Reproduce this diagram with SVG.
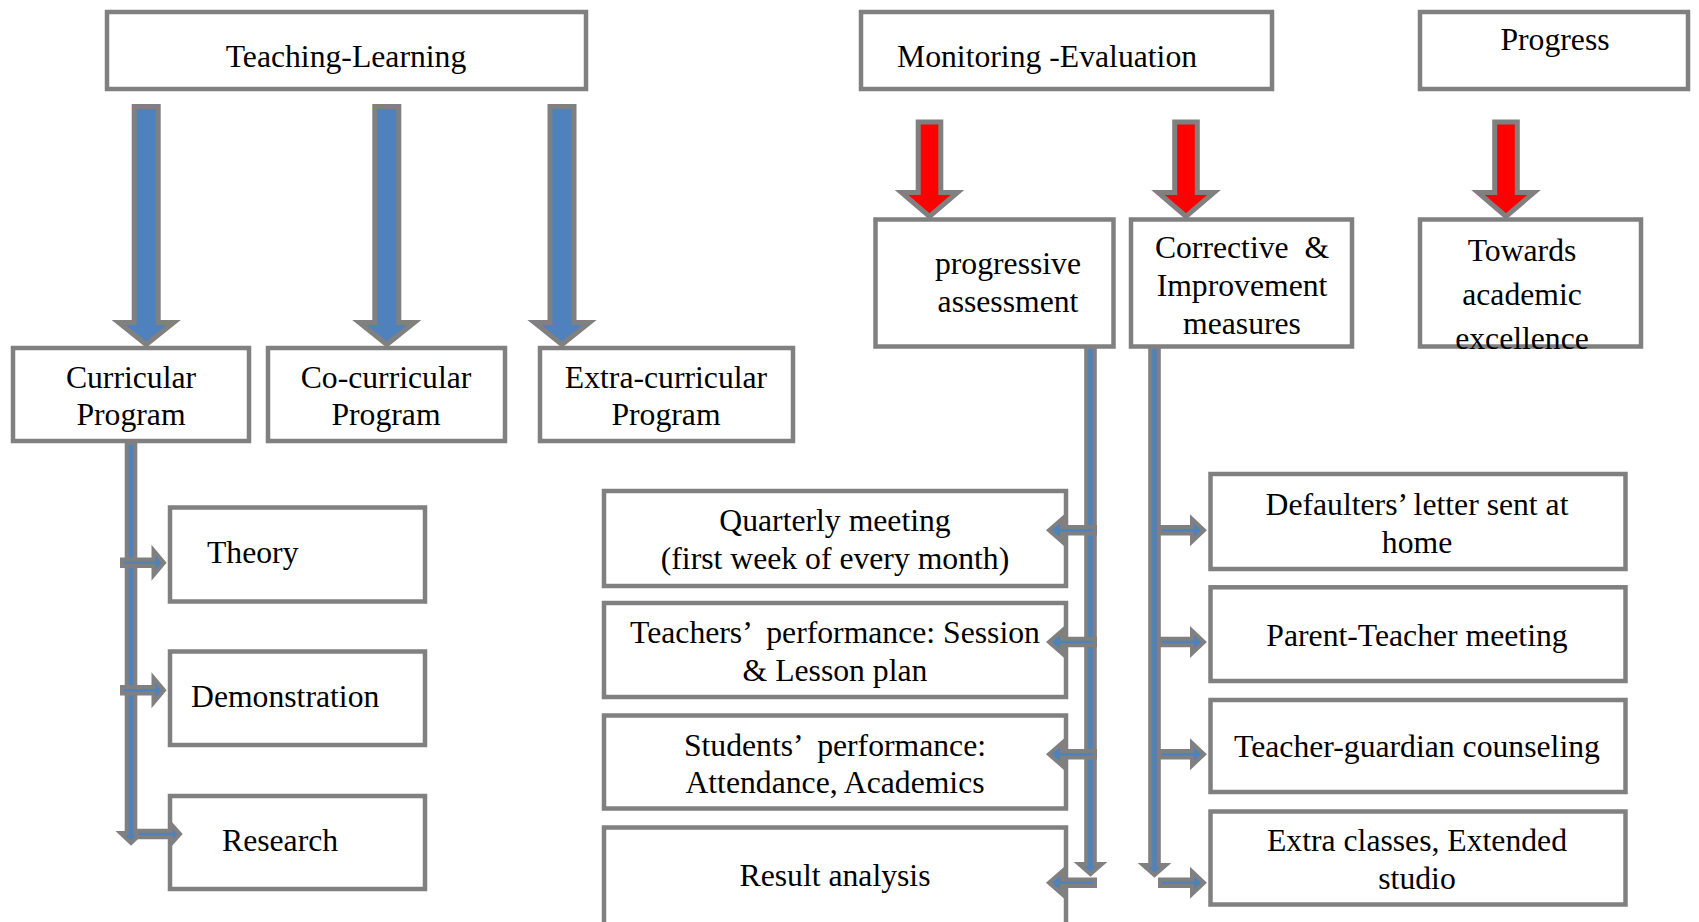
<svg xmlns="http://www.w3.org/2000/svg" width="1699" height="922" viewBox="0 0 1699 922">
<style>
.box{fill:#ffffff;stroke:#808080;stroke-width:4.5}
.t{font-family:"Liberation Serif","Times New Roman",serif;font-size:31.7px;fill:#000000;white-space:pre}
.m{text-anchor:middle}
.big{fill:#4f81bd;stroke:#808080;stroke-width:5;stroke-linejoin:miter;stroke-miterlimit:10}
.red{fill:#ff0000;stroke:#808080;stroke-width:5;stroke-linejoin:miter;stroke-miterlimit:10}
.thin{fill:#4f81bd;stroke:#808080;stroke-width:4;stroke-linejoin:miter;stroke-miterlimit:10}
</style>
<rect width="1699" height="922" fill="#ffffff"/>
<g id="teaching-learning"><rect class="box" x="107" y="12" width="479" height="77"/><text class="t m" x="346" y="67">Teaching-Learning</text></g>
<g id="monitoring-evaluation"><rect class="box" x="861" y="12" width="411" height="77"/><text class="t" x="897" y="67">Monitoring -Evaluation</text></g>
<g id="progress"><rect class="box" x="1420" y="12" width="268" height="77"/><text class="t m" x="1555" y="50">Progress</text></g>
<g id="curricular"><rect class="box" x="13" y="348" width="236" height="93"/><text class="t m" x="131" y="388">Curricular</text><text class="t m" x="131" y="425">Program</text></g>
<g id="co-curricular"><rect class="box" x="268" y="348" width="237" height="93"/><text class="t m" x="386" y="388">Co-curricular</text><text class="t m" x="386" y="425">Program</text></g>
<g id="extra-curricular"><rect class="box" x="540" y="348" width="253" height="93"/><text class="t m" x="666" y="388">Extra-curricular</text><text class="t m" x="666" y="425">Program</text></g>
<g id="progressive-assessment"><rect class="box" x="875.5" y="219.5" width="238" height="127"/><text class="t m" x="1008" y="274">progressive</text><text class="t m" x="1008" y="312">assessment</text></g>
<g id="corrective"><rect class="box" x="1131" y="219.5" width="221" height="127"/><text class="t m" x="1242" y="258">Corrective  &amp;</text><text class="t m" x="1242" y="296">Improvement</text><text class="t m" x="1242" y="334">measures</text></g>
<g id="towards"><rect class="box" x="1420" y="219.5" width="221" height="127"/><text class="t m" x="1522" y="261">Towards</text><text class="t m" x="1522" y="305">academic</text><text class="t m" x="1522" y="349">excellence</text></g>
<g id="theory"><rect class="box" x="170" y="507.5" width="255" height="94"/><text class="t" x="207" y="563">Theory</text></g>
<g id="demonstration"><rect class="box" x="170" y="651.5" width="255" height="93.5"/><text class="t" x="191" y="707">Demonstration</text></g>
<g id="research"><rect class="box" x="170" y="796" width="255" height="93"/><text class="t" x="222" y="851">Research</text></g>
<g id="quarterly"><rect class="box" x="604" y="491" width="462" height="95"/><text class="t m" x="835" y="531">Quarterly meeting</text><text class="t m" x="835" y="569">(first week of every month)</text></g>
<g id="teachers-performance"><rect class="box" x="604" y="603" width="462" height="94"/><text class="t m" x="835" y="643">Teachers’  performance: Session</text><text class="t m" x="835" y="681">&amp; Lesson plan</text></g>
<g id="students-performance"><rect class="box" x="604" y="715.5" width="462" height="93"/><text class="t m" x="835" y="756">Students’  performance:</text><text class="t m" x="835" y="793">Attendance, Academics</text></g>
<g id="result-analysis"><rect class="box" x="604" y="827.5" width="462" height="120"/><text class="t m" x="835" y="886">Result analysis</text></g>
<g id="defaulters"><rect class="box" x="1210.5" y="474" width="415" height="95"/><text class="t m" x="1417" y="515">Defaulters’ letter sent at</text><text class="t m" x="1417" y="553">home</text></g>
<g id="parent-teacher"><rect class="box" x="1210.5" y="587.3" width="415" height="93.7"/><text class="t m" x="1417" y="646">Parent-Teacher meeting</text></g>
<g id="teacher-guardian"><rect class="box" x="1210.5" y="700" width="415" height="92"/><text class="t m" x="1417" y="757">Teacher-guardian counseling</text></g>
<g id="extra-classes"><rect class="box" x="1210.5" y="811.5" width="415" height="93"/><text class="t m" x="1417" y="851">Extra classes, Extended</text><text class="t m" x="1417" y="889">studio</text></g>
<g id="connectors">
<polygon class="big" points="134.2,106.5 158.2,106.5 158.2,322.5 173.7,322.5 146.2,344.5 118.7,322.5 134.2,322.5"/>
<polygon class="big" points="374.8,106.5 398.8,106.5 398.8,322.5 414.3,322.5 386.8,344.5 359.3,322.5 374.8,322.5"/>
<polygon class="big" points="550,106.5 574,106.5 574,322.5 589.5,322.5 562,344.5 534.5,322.5 550,322.5"/>
<polygon class="red" points="918.2,122 940.8,122 940.8,192.5 957.5,192.5 929.5,216.5 901.5,192.5 918.2,192.5"/>
<polygon class="red" points="1174.7,122 1197.3,122 1197.3,192.5 1214,192.5 1186,216.5 1158,192.5 1174.7,192.5"/>
<polygon class="red" points="1494.7,122 1517.3,122 1517.3,192.5 1534,192.5 1506,216.5 1478,192.5 1494.7,192.5"/>
<polygon class="thin" points="126.7,443 135.3,443 135.3,833 141.5,833 131,843 120.5,833 126.7,833"/>
<polygon class="thin" points="122,559.4 153.5,559.4 153.5,550.2 164,562.7 153.5,575.2 153.5,566 122,566"/>
<polygon class="thin" points="122,687 153.5,687 153.5,677.8 164,690.3 153.5,702.8 153.5,693.6 122,693.6"/>
<polygon class="thin" points="137,830.7 171,830.7 171,824 180,834 171,844 171,837.3 137,837.3"/>
<polygon class="thin" points="1086.2,347 1094.8,347 1094.8,864 1102,864 1090.5,874 1079,864 1086.2,864"/>
<polygon class="thin" points="1150.2,347 1158.8,347 1158.8,865 1166,865 1154.5,875 1143,865 1150.2,865"/>
<polygon class="thin" points="1095,527 1062,527 1062,519 1049,530.3 1062,541.6 1062,533.6 1095,533.6"/>
<polygon class="thin" points="1095,638.7 1062,638.7 1062,630.7 1049,642 1062,653.3 1062,645.3 1095,645.3"/>
<polygon class="thin" points="1095,751 1062,751 1062,743 1049,754.3 1062,765.6 1062,757.6 1095,757.6"/>
<polygon class="thin" points="1095,879.4 1062,879.4 1062,871.4 1049,882.7 1062,894 1062,886 1095,886"/>
<polygon class="thin" points="1160,527 1192,527 1192,519 1204,530.3 1192,541.6 1192,533.6 1160,533.6"/>
<polygon class="thin" points="1160,638.7 1192,638.7 1192,630.7 1204,642 1192,653.3 1192,645.3 1160,645.3"/>
<polygon class="thin" points="1160,751 1192,751 1192,743 1204,754.3 1192,765.6 1192,757.6 1160,757.6"/>
<polygon class="thin" points="1160,879.4 1192,879.4 1192,871.4 1204,882.7 1192,894 1192,886 1160,886"/>
</g>
</svg>
